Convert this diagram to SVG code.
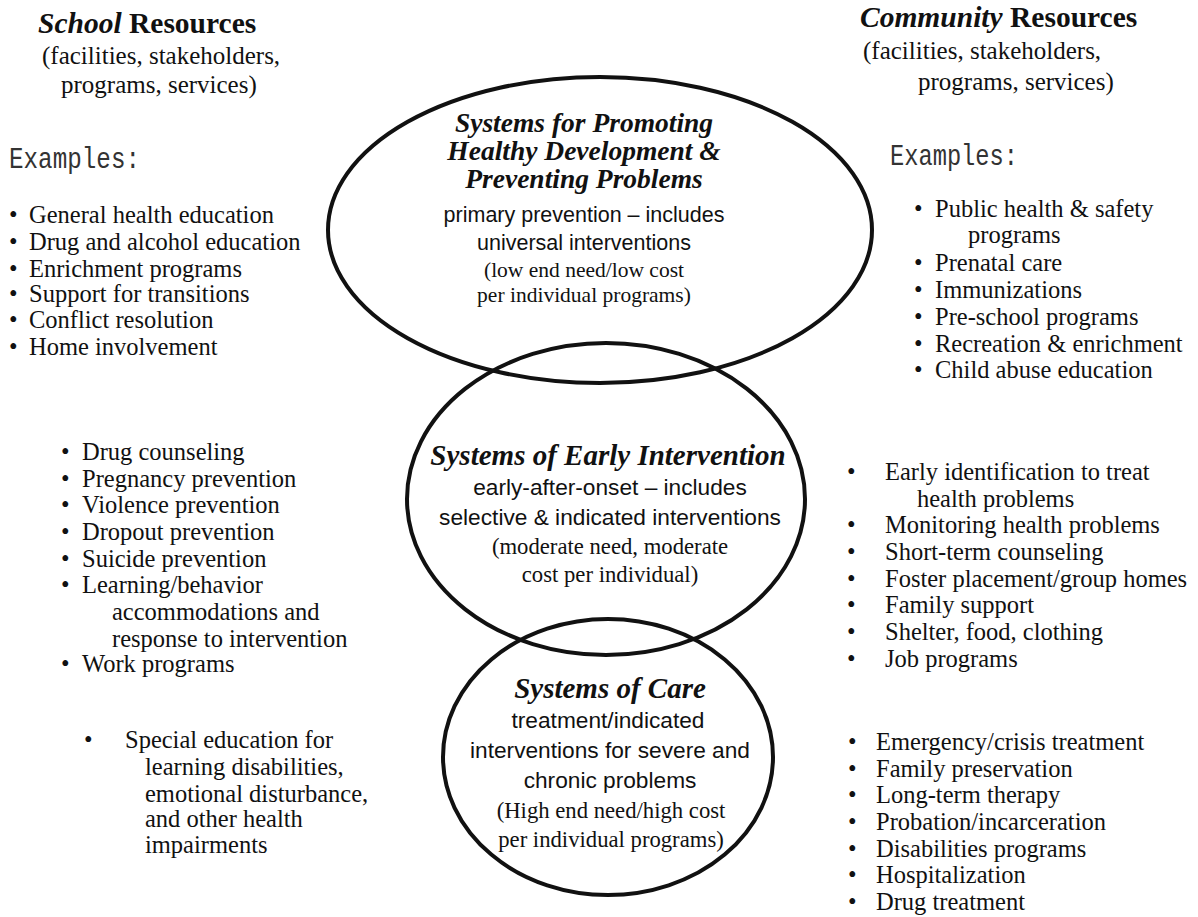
<svg xmlns="http://www.w3.org/2000/svg" width="1198" height="917" viewBox="0 0 1198 917">
<style>
text{fill:#111}
.hd{font-family:"Liberation Serif",serif;font-weight:bold;font-size:29.5px}
.hd tspan.i{font-style:italic}
.sub{font-family:"Liberation Serif",serif;font-size:25px}
.ex{font-family:"Liberation Mono","DejaVu Sans Mono",monospace;font-size:29px;fill:#333}
.li{font-family:"Liberation Serif",serif;font-size:24.5px}
.ttl{font-family:"Liberation Serif",serif;font-weight:bold;font-style:italic;font-size:29px;text-anchor:middle}
.sn{font-family:"Liberation Sans",Arial,sans-serif;font-size:22.7px;text-anchor:middle}
.sr{font-family:"Liberation Serif",serif;font-size:22.7px;text-anchor:middle}
.ell{fill:none;stroke:#111;stroke-width:4}
</style>
<rect width="1198" height="917" fill="#fff"/>

<g id="school-header">
<text class="hd" x="38" y="33"><tspan class="i">School</tspan> Resources</text>
<text class="sub" x="42" y="64">(facilities, stakeholders,</text>
<text class="sub" x="61" y="93">programs, services)</text>
<text class="ex" x="9" y="168" textLength="131" lengthAdjust="spacingAndGlyphs">Examples:</text>
</g>

<g id="community-header">
<text class="hd" x="860" y="27"><tspan class="i">Community</tspan> Resources</text>
<text class="sub" x="863" y="59">(facilities, stakeholders,</text>
<text class="sub" x="918" y="90">programs, services)</text>
<text class="ex" x="890" y="165" textLength="128" lengthAdjust="spacingAndGlyphs">Examples:</text>
</g>

<g id="school-prevention-list">
<text class="li" x="9" y="223">•</text><text class="li" x="29" y="223">General health education</text>
<text class="li" x="9" y="250">•</text><text class="li" x="29" y="250">Drug and alcohol education</text>
<text class="li" x="9" y="277">•</text><text class="li" x="29" y="277">Enrichment programs</text>
<text class="li" x="9" y="302">•</text><text class="li" x="29" y="302">Support for transitions</text>
<text class="li" x="9" y="328">•</text><text class="li" x="29" y="328">Conflict resolution</text>
<text class="li" x="9" y="355">•</text><text class="li" x="29" y="355">Home involvement</text>
</g>

<g id="community-prevention-list">
<text class="li" x="914" y="217">•</text><text class="li" x="935" y="217">Public health &amp; safety</text>
<text class="li" x="968" y="243">programs</text>
<text class="li" x="914" y="271">•</text><text class="li" x="935" y="271">Prenatal care</text>
<text class="li" x="914" y="298">•</text><text class="li" x="935" y="298">Immunizations</text>
<text class="li" x="914" y="325">•</text><text class="li" x="935" y="325">Pre-school programs</text>
<text class="li" x="914" y="352">•</text><text class="li" x="935" y="352">Recreation &amp; enrichment</text>
<text class="li" x="914" y="378">•</text><text class="li" x="935" y="378">Child abuse education</text>
</g>

<g id="school-early-list">
<text class="li" x="61" y="460">•</text><text class="li" x="82" y="460">Drug counseling</text>
<text class="li" x="61" y="487">•</text><text class="li" x="82" y="487">Pregnancy prevention</text>
<text class="li" x="61" y="513">•</text><text class="li" x="82" y="513">Violence prevention</text>
<text class="li" x="61" y="540">•</text><text class="li" x="82" y="540">Dropout prevention</text>
<text class="li" x="61" y="567">•</text><text class="li" x="82" y="567">Suicide prevention</text>
<text class="li" x="61" y="593">•</text><text class="li" x="82" y="593">Learning/behavior</text>
<text class="li" x="112" y="620">accommodations and</text>
<text class="li" x="112" y="647">response to intervention</text>
<text class="li" x="61" y="672">•</text><text class="li" x="82" y="672">Work programs</text>
</g>

<g id="community-early-list">
<text class="li" x="847" y="480">•</text><text class="li" x="885" y="480">Early identification to treat</text>
<text class="li" x="917" y="507">health problems</text>
<text class="li" x="847" y="533">•</text><text class="li" x="885" y="533">Monitoring health problems</text>
<text class="li" x="847" y="560">•</text><text class="li" x="885" y="560">Short-term counseling</text>
<text class="li" x="847" y="587">•</text><text class="li" x="885" y="587">Foster placement/group homes</text>
<text class="li" x="847" y="613">•</text><text class="li" x="885" y="613">Family support</text>
<text class="li" x="847" y="640">•</text><text class="li" x="885" y="640">Shelter, food, clothing</text>
<text class="li" x="847" y="667">•</text><text class="li" x="885" y="667">Job programs</text>
</g>

<g id="school-care-list">
<text class="li" x="84" y="748">•</text><text class="li" x="125" y="748">Special education for</text>
<text class="li" x="145" y="775">learning disabilities,</text>
<text class="li" x="145" y="802">emotional disturbance,</text>
<text class="li" x="145" y="827">and other health</text>
<text class="li" x="145" y="853">impairments</text>
</g>

<g id="community-care-list">
<text class="li" x="848" y="750">•</text><text class="li" x="876" y="750">Emergency/crisis treatment</text>
<text class="li" x="848" y="777">•</text><text class="li" x="876" y="777">Family preservation</text>
<text class="li" x="848" y="803">•</text><text class="li" x="876" y="803">Long-term therapy</text>
<text class="li" x="848" y="830">•</text><text class="li" x="876" y="830">Probation/incarceration</text>
<text class="li" x="848" y="857">•</text><text class="li" x="876" y="857">Disabilities programs</text>
<text class="li" x="848" y="883">•</text><text class="li" x="876" y="883">Hospitalization</text>
<text class="li" x="848" y="910">•</text><text class="li" x="876" y="910">Drug treatment</text>
</g>

<g id="promoting-system">
<ellipse class="ell" cx="600" cy="230" rx="272" ry="153"/>
<text class="ttl" x="584" y="132" style="font-size:27.5px">Systems for Promoting</text>
<text class="ttl" x="584" y="160" style="font-size:27.5px">Healthy Development &amp;</text>
<text class="ttl" x="584" y="188" style="font-size:27.5px">Preventing Problems</text>
<text class="sn" x="584" y="222" style="font-size:21.5px">primary prevention – includes</text>
<text class="sn" x="584" y="250" style="font-size:21.5px">universal interventions</text>
<text class="sr" x="584" y="277" style="font-size:21.5px">(low end need/low cost</text>
<text class="sr" x="584" y="302" style="font-size:21.5px">per individual programs)</text>
</g>

<g id="early-intervention-system">
<ellipse class="ell" cx="606" cy="499" rx="199" ry="156"/>
<text class="ttl" x="608" y="465">Systems of Early Intervention</text>
<text class="sn" x="610" y="495">early-after-onset – includes</text>
<text class="sn" x="610" y="525">selective &amp; indicated interventions</text>
<text class="sr" x="610" y="554">(moderate need, moderate</text>
<text class="sr" x="610" y="582">cost per individual)</text>
</g>

<g id="care-system">
<ellipse class="ell" cx="608" cy="757" rx="165" ry="138"/>
<text class="ttl" x="610" y="698">Systems of Care</text>
<text class="sn" x="608" y="728">treatment/indicated</text>
<text class="sn" x="610" y="758">interventions for severe and</text>
<text class="sn" x="610" y="788">chronic problems</text>
<text class="sr" x="611" y="818">(High end need/high cost</text>
<text class="sr" x="611" y="847">per individual programs)</text>
</g>
</svg>
